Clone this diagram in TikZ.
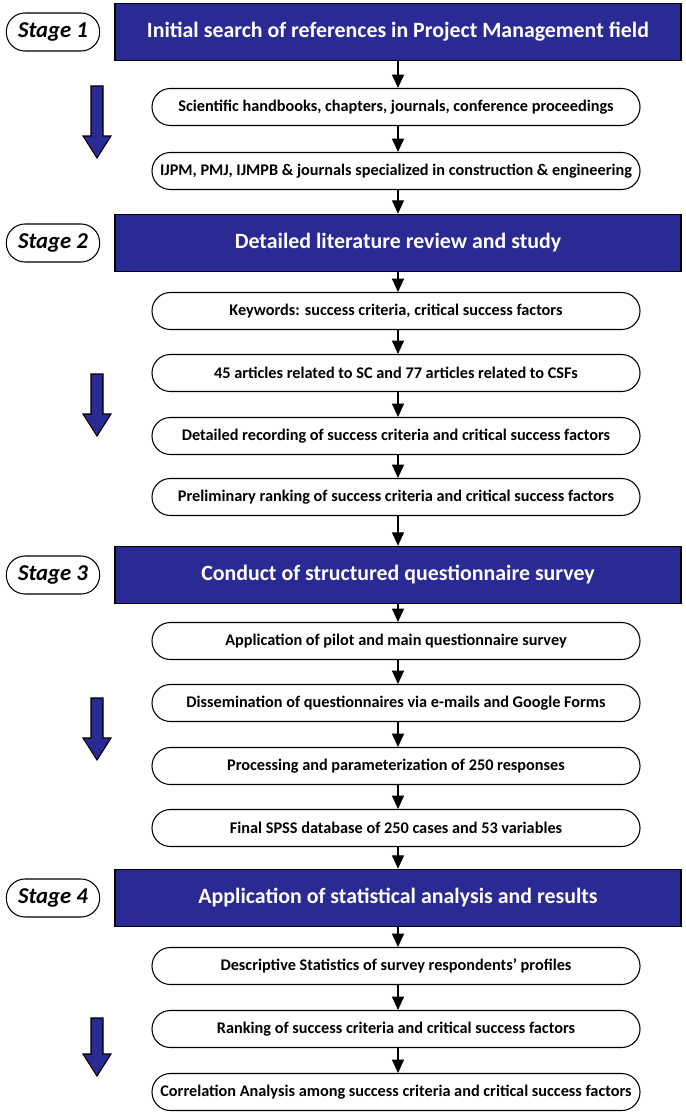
\documentclass[tikz,border=0pt]{standalone}
\usepackage{fontspec}
\setmainfont{Carlito}
\usetikzlibrary{arrows.meta}
\definecolor{hdrblue}{RGB}{42,42,148}
\begin{document}
\begin{tikzpicture}[x=0.75pt,y=-0.75pt,
 hdr/.style={draw=black, line width=1pt, fill=hdrblue, text=white, font=\fontsize{16.4}{19}\selectfont\bfseries, minimum width=424.5pt, minimum height=43pt, inner sep=0pt},
 stg/.style={draw=black, line width=0.8pt, rounded corners=14pt, fill=white, font=\fontsize{17}{20}\selectfont\bfseries\itshape, minimum width=70pt, minimum height=28.5pt, inner sep=0pt},
 box/.style={draw=black, line width=0.8pt, rounded corners=13.8pt, fill=white, minimum width=366pt, minimum height=27.75pt, font=\fontsize{12.2}{14}\selectfont\bfseries, inner sep=0pt},
 con/.style={-{Triangle[length=10pt,width=9pt]}, line width=0.9pt},
 bigarrow/.style={fill=hdrblue, draw=black, line width=0.8pt}]
\useasboundingbox (0,0) rectangle (685,1113);
% Stage 1
\node[stg] (s1) at (53,32) {Stage 1};
\node[hdr] (h1) at (398,32) {Initial search of references in Project Management field};
\node[box] (b1) at (396,107) {Scientific handbooks, chapters, journals, conference proceedings};
\node[box] (b2) at (396,171) {IJPM, PMJ, IJMPB \& journals specialized in construction \& engineering};
% Stage 2
\node[stg] (s2) at (53,243) {Stage 2};
\node[hdr] (h2) at (398,243) {Detailed literature review and study};
\node[box] (c1) at (396,311) {Keywords: success criteria, critical success factors};
\node[box] (c2) at (396,373) {45 articles related to SC and 77 articles related to CSFs};
\node[box] (c3) at (396,436) {Detailed recording of success criteria and critical success factors};
\node[box] (c4) at (396,497) {Preliminary ranking of success criteria and critical success factors};
% Stage 3
\node[stg] (s3) at (53,575) {Stage 3};
\node[hdr] (h3) at (398,575) {Conduct of structured questionnaire survey};
\node[box] (d1) at (396,641) {Application of pilot and main questionnaire survey};
\node[box] (d2) at (396,703) {Dissemination of questionnaires via e-mails and Google Forms};
\node[box] (d3) at (396,766) {Processing and parameterization of 250 responses};
\node[box] (d4) at (396,828) {Final SPSS database of 250 cases and 53 variables};
% Stage 4
\node[stg] (s4) at (53,898) {Stage 4};
\node[hdr] (h4) at (398,898) {Application of statistical analysis and results};
\node[box] (e1) at (396,966) {Descriptive Statistics of survey respondents' profiles};
\node[box] (e2) at (396,1029) {Ranking of success criteria and critical success factors};
\node[box] (e3) at (396,1092) {Correlation Analysis among success criteria and critical success factors};
% connectors
\foreach \a/\b in {h1/b1,b1/b2,b2/h2,h2/c1,c1/c2,c2/c3,c3/c4,c4/h3,h3/d1,d1/d2,d2/d3,d3/d4,d4/h4,h4/e1,e1/e2,e2/e3}
  \draw[con] (\a.south -| h1.south) -- (\b.north -| h1.south);
% big blue arrows
\foreach \t/\b in {86/158, 374/436, 698/760, 1018/1076}
  \draw[bigarrow] (91,\t) -- (103,\t) -- (103,\b-22) -- (111,\b-22) -- (97,\b) -- (83,\b-22) -- (91,\b-22) -- cycle;
\end{tikzpicture}
\end{document}
